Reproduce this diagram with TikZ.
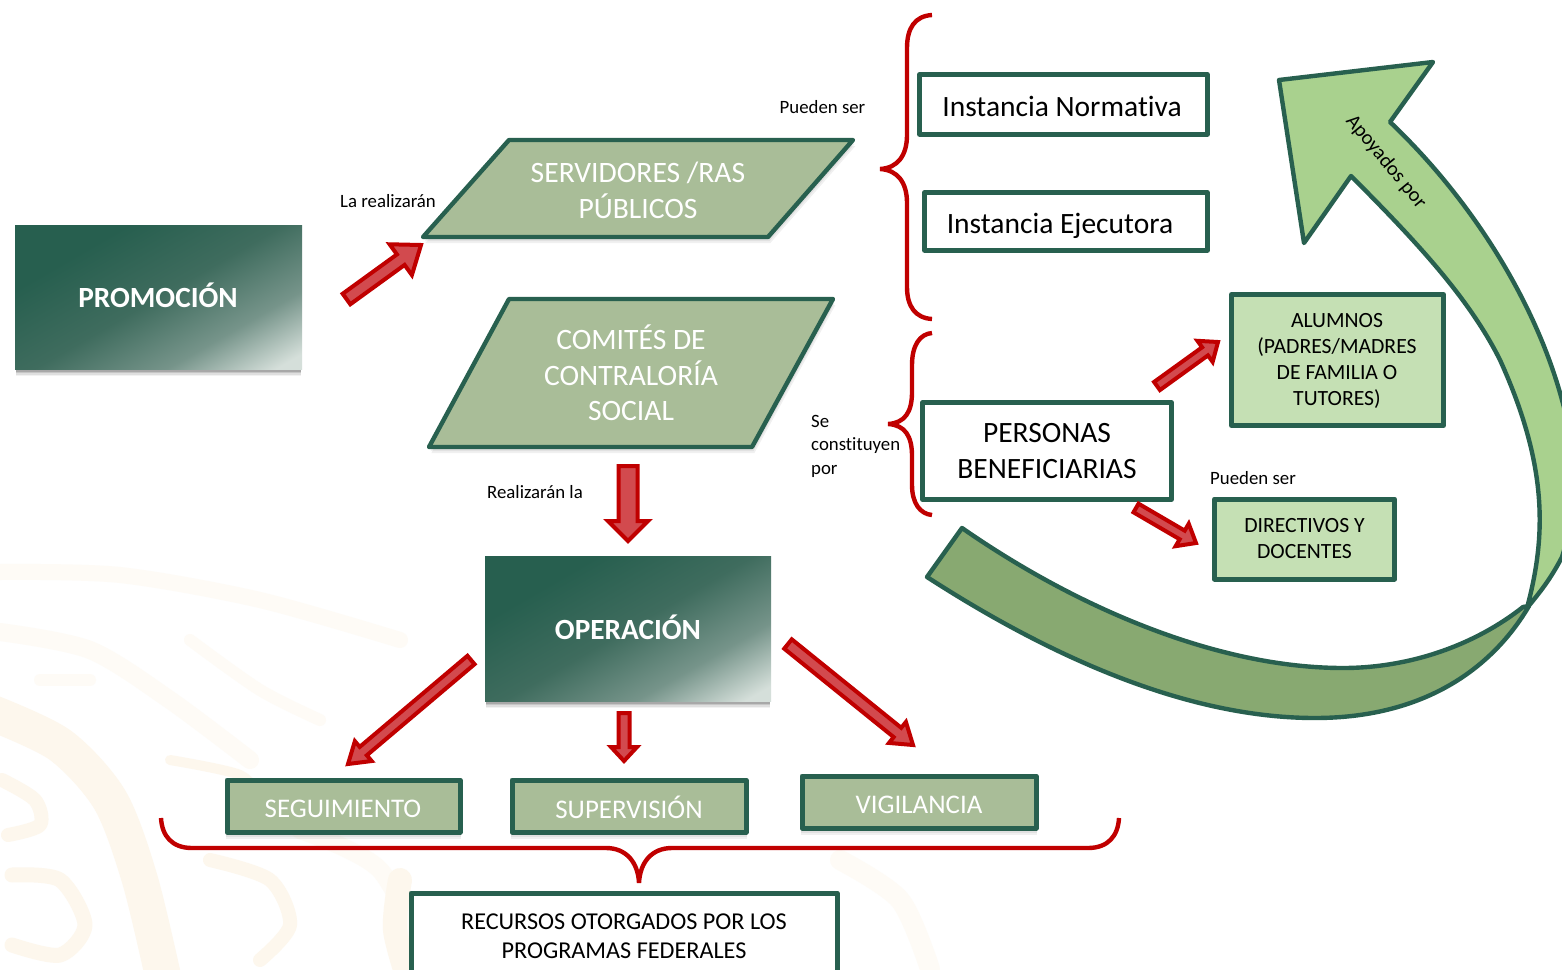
\documentclass[tikz,border=0pt]{standalone}
\usepackage{fontspec}
\setmainfont{Carlito}[Ligatures=CommonOff]
\usetikzlibrary{calc}
\definecolor{dkgreen}{HTML}{28604F}
\definecolor{sage}{HTML}{A9BD98}
\definecolor{lime}{HTML}{A9D18E}
\definecolor{pale}{HTML}{C5E0B4}
\definecolor{olive}{HTML}{88A971}
\definecolor{redb}{HTML}{C00000}
\definecolor{redf}{HTML}{D24A4E}
\definecolor{wmA}{HTML}{FDF7ED}
\definecolor{wmB}{HTML}{FEFBF6}
\definecolor{gA}{HTML}{275F4F}
\definecolor{gB}{HTML}{3F6C5E}
\definecolor{gC}{HTML}{76948A}
\definecolor{gD}{HTML}{D5DFDA}
\pgfdeclarehorizontalshading{gradbox}{100bp}{color(0bp)=(gA); color(30bp)=(gA); color(50bp)=(gB); color(67bp)=(gC); color(81bp)=(gD); color(100bp)=(gD)}
\tikzset{
  box/.style={draw=dkgreen,line width=5pt,fill=white,line join=round,align=center,font=\fontsize{29.5}{36}\selectfont,text=black},
  palebox/.style={box,fill=pale,font=\fontsize{21.7}{26}\selectfont},
  sagebox/.style={draw=dkgreen,line width=5pt,fill=sage,line join=round,text=white,font=\fontsize{26.9}{30}\selectfont},
  para/.style={draw=dkgreen,line width=4.4pt,fill=sage,line join=round},
  paratext/.style={text=white,align=center,font=\fontsize{29.6}{35.6}\selectfont},
  grad/.style={shading=gradbox,shading angle=-60},
  gradtext/.style={text=white,font=\bfseries\fontsize{29.3}{32}\selectfont},
  lbl/.style={text=black,font=\fontsize{18.8}{23.5}\selectfont,align=left},
  redarrow/.style={draw=redb,fill=redf,line width=4pt,line join=miter,miter limit=8},
  brace/.style={draw=redb,line width=4.4pt,line cap=butt},
  bigarrow/.style={draw=dkgreen,line width=4.4pt,line join=round},
  wma/.style={draw=wmA,line cap=round,line join=round},
  wmb/.style={draw=wmB,line cap=round,line join=round},
  shadowlayer/.style={fill=black,opacity=.06},
}
\newcommand{\softshadow}[4]{%
  \foreach \s/\o in {0/.16,1.5/.14,3/.11,4.5/.08,6/.05}{
    \fill[black,opacity=\o] (#1+1,#2) rectangle (#3-1,#4+\s+1);
  }
}
% start, tip, shaft half width, head half width, head length
\newcommand{\blockarr}[5]{%
  \coordinate (bh) at ($(#2)!#5pt!(#1)$);
  \draw[redarrow] ($(#1)!#3pt!90:(#2)$) -- ($(bh)!#3pt!90:(#2)$) -- ($(bh)!#4pt!90:(#2)$) -- (#2)
     -- ($(bh)!#4pt!-90:(#2)$) -- ($(bh)!#3pt!-90:(#2)$) -- ($(#1)!#3pt!-90:(#2)$) -- cycle;
}
\begin{document}
\begin{tikzpicture}[x=1pt,y=-1pt]
\useasboundingbox (0,0) rectangle (1562,969);
\clip (0,0) rectangle (1562,969);
\fill[white] (0,0) rectangle (1562,969);
% watermark
\draw[wmb,line width=16pt] plot[smooth] coordinates {(0,572) (120,575) (260,600) (400,640)};
\draw[wmb,line width=18pt] plot[smooth] coordinates {(0,632) (90,650) (170,700) (250,760)};
\draw[wma,line width=36pt] plot[smooth] coordinates {(-10,712) (60,745) (110,800) (140,880) (165,985)};
\draw[wma,line width=14pt] plot[smooth] coordinates {(2,780) (35,800) (40,825) (8,835)};
\draw[wma,line width=15pt] plot[smooth] coordinates {(12,875) (60,880) (85,925) (60,955) (12,945)};
\draw[wmb,line width=12pt] plot[smooth] coordinates {(40,680) (90,680)};
\draw[wmb,line width=12pt] plot[smooth] coordinates {(190,640) (260,690) (320,720)};
\draw[wma,line width=10pt] plot[smooth] coordinates {(170,760) (240,775) (262,800)};
\draw[wma,line width=14pt] plot[smooth] coordinates {(210,860) (270,880) (290,925) (260,960)};
\draw[wmb,line width=18pt] plot[smooth] coordinates {(300,830) (380,870) (430,969)};
\draw[wma,line width=24pt] plot[smooth] coordinates {(400,880) (395,930) (410,985)};
\draw[wmb,line width=20pt] plot[smooth] coordinates {(840,860) (900,900) (930,969)};

% big curved arrow: light part
\path[fill=lime,bigarrow] (1279,80) -- (1433,62) -- (1390,122)
  .. controls (1470,198) and (1535,300) .. (1562,400)
  .. controls (1576,450) and (1580,500) .. (1562,557)
  .. controls (1550,580) and (1540,592) .. (1527,608)
  .. controls (1545,540) and (1550,470) .. (1500,360)
  .. controls (1470,300) and (1420,245) .. (1351,176)
  -- (1304,243) -- cycle;
% dark band
\path[fill=olive,bigarrow] (962,528)
  .. controls (1080,610) and (1220,668) .. (1343,668)
  .. controls (1410,668) and (1475,645) .. (1523,607)
  -- (1529,606)
  .. controls (1490,672) and (1420,718) .. (1315,718)
  .. controls (1180,718) and (1040,650) .. (927,577)
  -- cycle;
\node[lbl,rotate=-50.6,font=\fontsize{20.4}{24}\selectfont] (apoyados) at (1386,162) {Apoyados por};

% promocion
\softshadow{15}{225}{302}{369}
\shade[grad] (15,225) rectangle (302,369);
\node[gradtext] (promo) at (158,295) {PROMOCIÓN};
% servidores
\foreach \s in {2,4,6}{\fill[shadowlayer,shift={(\s*.4,\s)}] (509,140) -- (853,140) -- (768,237) -- (423,237) -- cycle;}
\path[para] (509,140) -- (853,140) -- (768,237) -- (423,237) -- cycle;
\node[paratext,font=\fontsize{29.6}{36}\selectfont] (serv) at (638,190) {SERVIDORES /RAS\\PÚBLICOS};
% comites
\foreach \s in {2,4,6}{\fill[shadowlayer,shift={(\s*.4,\s)}] (509,299) -- (833,299) -- (752,447) -- (429,447) -- cycle;}
\path[para] (509,299) -- (833,299) -- (752,447) -- (429,447) -- cycle;
\node[paratext] (comites) at (631,373) {COMITÉS DE\\CONTRALORÍA\\SOCIAL};
% operacion
\softshadow{485}{556}{771}{701}
\shade[grad] (485,556) rectangle (771,701);
\node[gradtext] (oper) at (628,627) {OPERACIÓN};

% rectangle boxes
\node[box,minimum width=287.5pt,minimum height=59.5pt,inner sep=0pt] (normbox) at (1063.5,104.5) {};
\node[box,draw=none,fill=none] (norm) at (1062,106) {Instancia Normativa};
\node[box,minimum width=282.5pt,minimum height=57.5pt,inner sep=0pt] (ejecbox) at (1066,221.5) {};
\node[box,draw=none,fill=none] (ejec) at (1060,226) {Instancia Ejecutora};
\node[box,minimum width=248.5pt,minimum height=97pt,inner sep=0pt] (benef) at (1047,451) {\raisebox{-1pt}{PERSONAS}\\\raisebox{-1pt}{BENEFICIARIAS}};
\node[palebox,minimum width=212pt,minimum height=131pt,inner sep=0pt] (alumbox) at (1337.5,360) {};
\node[palebox,draw=none,fill=none] (alum) at (1337,360.5) {ALUMNOS\\(PADRES/MADRES\\DE FAMILIA O\\TUTORES)};
\node[palebox,minimum width=180pt,minimum height=80pt,inner sep=0pt] (direc) at (1304.5,539) {DIRECTIVOS Y\\DOCENTES};
\foreach \xa/\ya/\xb/\yb in {226/779/461/833,511/779/747/833,801/775/1037/829}{
  \foreach \s in {2,4,6}{\fill[shadowlayer,shift={(0,\s)}] (\xa,\ya) rectangle (\xb,\yb);}
}
\node[sagebox,minimum width=233pt,minimum height=52pt,inner sep=0pt] (segbox) at (343.5,806) {};
\node[text=white,font=\fontsize{26.9}{30}\selectfont] (seg) at (343,809) {SEGUIMIENTO};
\node[sagebox,minimum width=234pt,minimum height=52pt,inner sep=0pt] (supbox) at (629,806) {};
\node[text=white,font=\fontsize{26.9}{30}\selectfont] (sup) at (629,807) {SUPERVISIÓN};
\node[sagebox,minimum width=234pt,minimum height=52pt,inner sep=0pt] (vigbox) at (919,802) {};
\node[text=white,font=\fontsize{26.9}{30}\selectfont] (vig) at (919,805) {VIGILANCIA};
\draw[dkgreen,line width=5pt,fill=white,line join=round] (411,893) rectangle (837,975);
\node[text=black,align=center,font=\fontsize{24.2}{29}\selectfont] (rec) at (624,936.5) {RECURSOS OTORGADOS POR LOS\\PROGRAMAS FEDERALES};

% labels
\node[lbl] (l1) at (822.5,107.5) {Pueden ser};
\node[lbl] (l2) at (388,201.5) {La realizarán};
\node[lbl] (l3) at (535,492.5) {Realizarán la};
\node[lbl,anchor=west,inner sep=0pt] (l4) at (811,446) {Se\\constituyen\\por};
\node[lbl] (l5) at (1253,478.5) {Pueden ser};

% braces
\draw[brace] (932,15) .. controls (915,16) and (907,28) .. (907,48) -- (907,135)
  .. controls (907,155) and (898,168) .. (880,169) .. controls (898,170) and (907,183) .. (907,203)
  -- (907,287) .. controls (907,306) and (915,318) .. (932,319);
\draw[brace] (932,333) .. controls (920,334) and (912,345) .. (912,365) -- (912,392)
  .. controls (912,412) and (905,423) .. (888,424) .. controls (905,425) and (912,436) .. (912,456)
  -- (912,485) .. controls (912,503) and (920,514) .. (932,515);
\draw[brace] (161,818) .. controls (162,836) and (172,848) .. (192,848) -- (606,848)
  .. controls (626,848) and (638,862) .. (639,883) .. controls (640,862) and (652,848) .. (672,848)
  -- (1088,848) .. controls (1108,848) and (1118,836) .. (1119,818);

% arrows
\coordinate (a1s) at (346.5,299); \coordinate (a1e) at (421,245);
\blockarr{a1s}{a1e}{6.5}{19}{25}
\coordinate (a2s) at (628,466); \coordinate (a2e) at (628,541);
\blockarr{a2s}{a2e}{9.5}{20}{20}
\coordinate (a3s) at (471,660); \coordinate (a3e) at (348,764);
\blockarr{a3s}{a3e}{5.5}{13}{20}
\coordinate (a4s) at (624,713); \coordinate (a4e) at (624,761);
\blockarr{a4s}{a4e}{5.5}{13}{14}
\coordinate (a5s) at (788,644); \coordinate (a5e) at (913,745);
\blockarr{a5s}{a5e}{6}{13.5}{20}
\coordinate (a6s) at (1157,386); \coordinate (a6e) at (1218,342);
\blockarr{a6s}{a6e}{5}{13}{16}
\coordinate (a7s) at (1136,508); \coordinate (a7e) at (1196,543);
\blockarr{a7s}{a7e}{5}{13}{16}
\end{tikzpicture}
\end{document}
